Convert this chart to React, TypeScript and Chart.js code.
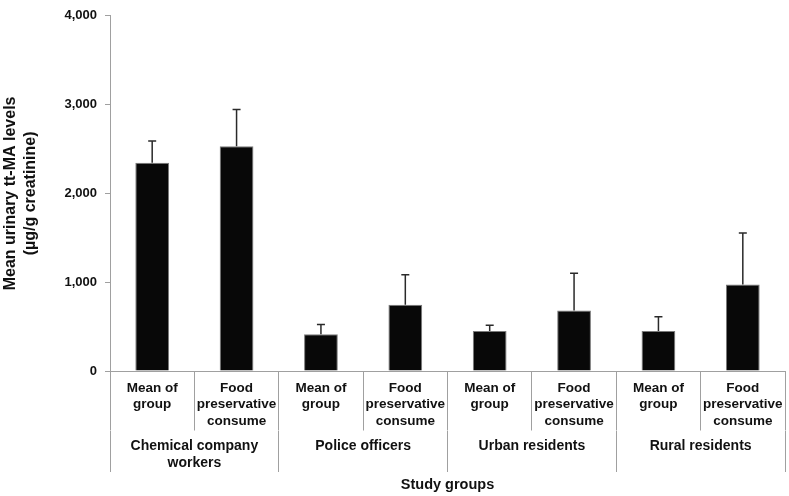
import React, { useEffect, useRef } from "react";
import { Chart, registerables } from "chart.js";

Chart.register(...registerables);

const subLabels: string[][] = [
  ["Mean of", "group"],
  ["Food", "preservative", "consume"],
  ["Mean of", "group"],
  ["Food", "preservative", "consume"],
  ["Mean of", "group"],
  ["Food", "preservative", "consume"],
  ["Mean of", "group"],
  ["Food", "preservative", "consume"],
];
const groupLabels: (string | string[])[] = [
  ["Chemical company", "workers"],
  "Police officers",
  "Urban residents",
  "Rural residents",
];
const meanValues: number[] = [2345, 2530, 415, 745, 450, 680, 450, 975];
const errorValues: number[] = [245, 415, 110, 340, 65, 420, 160, 580];
const yTicks: number[] = [0, 1000, 2000, 3000, 4000];

const FONT = "'Liberation Sans', Arial, sans-serif";
const GRAY = "#a0a0a0";

const errorBarPlugin = {
  id: "errorBars",
  afterDatasetsDraw(chart: any) {
    const meta = chart.getDatasetMeta(0);
    const yScale = chart.scales.y;
    const ctx = chart.ctx;
    ctx.save();
    ctx.strokeStyle = "#2a2a2a";
    ctx.lineWidth = 1.5;
    meta.data.forEach((bar: any, i: number) => {
      const x = bar.x;
      const yTop = yScale.getPixelForValue(meanValues[i]);
      const yErr = yScale.getPixelForValue(meanValues[i] + errorValues[i]);
      ctx.beginPath();
      ctx.moveTo(x, yTop);
      ctx.lineTo(x, yErr);
      ctx.moveTo(x - 4, yErr);
      ctx.lineTo(x + 4, yErr);
      ctx.stroke();
    });
    ctx.restore();
  },
};

export default function App() {
  const ref = useRef<HTMLCanvasElement | null>(null);
  useEffect(() => {
    if (!ref.current) return;
    const chart = new Chart(ref.current, {
      type: "bar",
      data: {
        labels: subLabels as any,
        datasets: [
          {
            data: meanValues,
            backgroundColor: "#080808",
            borderColor: "#7a7a7a",
            borderWidth: 1,
            barPercentage: 0.4,
            categoryPercentage: 1,
            xAxisID: "x",
            yAxisID: "y",
          },
        ],
      },
      options: {
        animation: false,
        responsive: false,
        maintainAspectRatio: false,
        layout: { padding: { top: 5, right: 4, bottom: 0, left: 0 } },
        plugins: {
          legend: { display: false },
          tooltip: { enabled: false },
        },
        scales: {
          y: {
            min: 0,
            max: 4000,
            afterBuildTicks: (scale: any) => {
              scale.ticks = yTicks.map((v) => ({ value: v }));
            },
            afterFit: (scale: any) => {
              scale.width = 110;
            },
            ticks: {
              color: "#111",
              padding: 8,
              font: { family: FONT, size: 13, weight: "bold" },
              callback: (v: any) => Number(v).toLocaleString("en-US"),
            },
            grid: {
              drawOnChartArea: false,
              drawTicks: true,
              tickLength: 5,
              color: GRAY,
            },
            border: { display: true, color: GRAY, width: 1 },
            title: {
              display: true,
              text: ["Mean urinary tt-MA levels", "(µg/g creatinine)"],
              color: "#111",
              font: { family: FONT, size: 16, weight: "bold", lineHeight: 1.22 },
              padding: { top: 1, bottom: 0 },
            },
          },
          x: {
            type: "category",
            position: "bottom",
            offset: true,
            afterFit: (scale: any) => {
              scale.height = 59.5;
            },
            ticks: {
              color: "#111",
              padding: -50.5,
              maxRotation: 0,
              minRotation: 0,
              autoSkip: false,
              font: { family: FONT, size: 13.5, weight: "bold", lineHeight: 1.22 },
            },
            grid: {
              offset: true,
              drawOnChartArea: false,
              drawTicks: true,
              tickLength: 59.5,
              color: GRAY,
            },
            border: { display: true, color: GRAY, width: 1 },
          },
          x2: {
            type: "category",
            position: "bottom",
            labels: groupLabels as any,
            offset: true,
            afterFit: (scale: any) => {
              scale.height = 65.5;
            },
            ticks: {
              color: "#111",
              padding: -34,
              maxRotation: 0,
              minRotation: 0,
              autoSkip: false,
              font: { family: FONT, size: 14, weight: "bold", lineHeight: 1.22 },
            },
            grid: {
              offset: true,
              drawOnChartArea: false,
              drawTicks: true,
              tickLength: 41.5,
              color: GRAY,
            },
            border: { display: false },
            title: {
              display: true,
              text: "Study groups",
              color: "#111",
              font: { family: FONT, size: 14.5, weight: "bold", lineHeight: 1.2 },
              padding: { top: 0, bottom: 2.5 },
            },
          },
        },
      } as any,
      plugins: [errorBarPlugin],
    });
    return () => chart.destroy();
  }, []);
  return (
    <div style={{ position: "fixed", left: 0, top: 0, width: 789, height: 496, background: "#fff" }}>
      <canvas ref={ref} width={789} height={496} style={{ width: 789, height: 496, display: "block" }} />
    </div>
  );
}
